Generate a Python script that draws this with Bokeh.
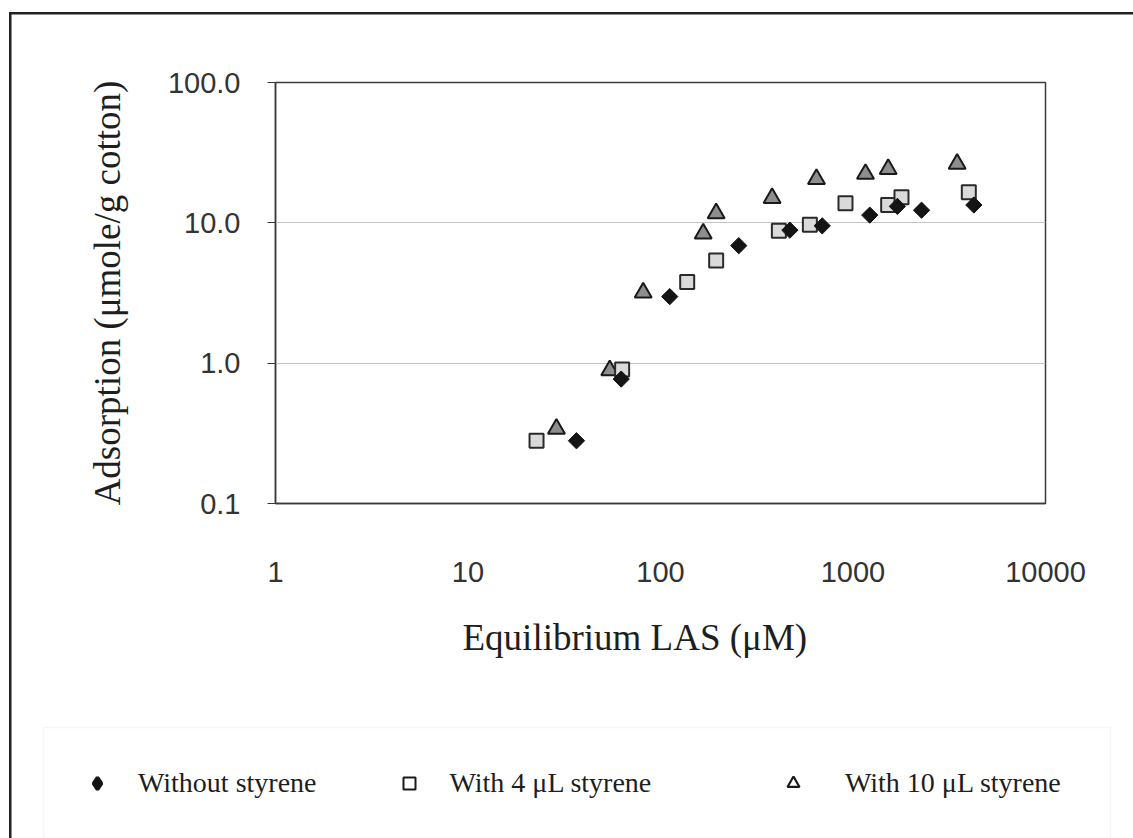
import math

from bokeh.plotting import figure
from bokeh.layouts import column
from bokeh.models import (BoxAnnotation, ColumnDataSource, FixedTicker, Legend,
                          LegendItem, PrintfTickFormatter, Range1d, Title)
from bokeh.embed import file_html
from bokeh.resources import INLINE

# Adsorption isotherms of LAS on cotton (log-log)
x_without = [36.6, 62.5, 111.7, 255, 470, 692, 1222, 1700, 2270, 4245]
y_without = [0.28, 0.77, 2.98, 6.88, 8.87, 9.52, 11.35, 13.1, 12.3, 13.4]

x_4ul = [22.7, 63.2, 137.6, 194.6, 412, 597, 914, 1523, 1786, 3996]
y_4ul = [0.28, 0.90, 3.79, 5.4, 8.77, 9.68, 13.8, 13.4, 15.2, 16.5]

x_10ul = [28.8, 54.5, 81.3, 166.7, 194.6, 380, 646, 1161, 1523, 3475]
y_10ul = [0.34, 0.89, 3.18, 8.39, 11.7, 15.0, 20.5, 22.3, 24.2, 26.3]

x_ticks = [1, 10, 100, 1000, 10000]
y_ticks = [0.1, 1, 10, 100]

series_names = ["Without styrene", "With 4 \u03bcL styrene", "With 10 \u03bcL styrene"]
x_title = "Equilibrium LAS (\u03bcM)"
y_title = "Adsorption (\u03bcmole/g cotton)"

SERIF = "Liberation Serif"
SANS = "Liberation Sans"
BORDER = "#222"

# ---------------------------------------------------------------- main chart
p = figure(width=1133, height=700, title=None,
           x_axis_type="log", y_axis_type="log",
           x_range=Range1d(1, 10000), y_range=Range1d(0.1, 100),
           output_backend="svg", toolbar_location=None,
           min_border_left=275, min_border_right=88,
           min_border_top=82, min_border_bottom=197)
p.frame_align = False

# chart border (left and top edges) painted behind a transparent canvas
p.border_fill_color = None
p.styles = {
    "background": (f"linear-gradient({BORDER},{BORDER}) 9px 12px / 2.5px 800px no-repeat, "
                   f"linear-gradient({BORDER},{BORDER}) 9px 12px / 1300px 2.5px no-repeat, white"),
}
p.background_fill_color = "white"
p.outline_line_color = "#3a3a3a"
p.outline_line_width = 1.5

p.xaxis.ticker = FixedTicker(ticks=x_ticks)
p.xaxis.formatter = PrintfTickFormatter(format="%d")
p.yaxis.ticker = FixedTicker(ticks=y_ticks)
p.yaxis.formatter = PrintfTickFormatter(format="%.1f")
for ax in (p.xaxis, p.yaxis):
    ax.major_label_text_font = SANS
    ax.major_label_text_font_size = "29px"
    ax.major_label_text_color = "#333333"
    ax.minor_tick_line_color = None
    ax.axis_line_color = "#3a3a3a"
    ax.axis_line_width = 1.5
p.xaxis.major_tick_line_color = None
p.xaxis.major_tick_out = 0
p.xaxis.major_label_standoff = 58
p.yaxis.major_tick_out = 8
p.yaxis.major_tick_in = 0
p.yaxis.major_tick_line_color = "#3a3a3a"
p.yaxis.major_label_standoff = 27

p.yaxis.axis_label = y_title
p.yaxis.axis_label_text_font = SERIF
p.yaxis.axis_label_text_font_size = "37px"
p.yaxis.axis_label_text_font_style = "normal"
p.yaxis.axis_label_text_color = "#1e1e1e"
p.yaxis.axis_label_standoff = 37

p.xgrid.grid_line_color = None
p.ygrid.grid_line_color = "#c4c4c4"
p.ygrid.grid_line_width = 1.2

src_without = ColumnDataSource(dict(x=x_without, y=y_without))
src_4ul = ColumnDataSource(dict(x=x_4ul, y=y_4ul))
src_10ul = ColumnDataSource(dict(x=x_10ul, y=y_10ul))

p.scatter("x", "y", source=src_10ul, marker="triangle", size=17,
          fill_color="#8e8e8e", line_color="#1a1a1a", line_width=2)
p.scatter("x", "y", source=src_4ul, marker="square", size=14,
          fill_color="#dadada", line_color="#2a2a2a", line_width=2)
p.scatter("x", "y", source=src_without, marker="square", angle=math.pi / 4,
          size=11.5, fill_color="#141414", line_color="#141414", line_width=1)

p.add_layout(Title(text=x_title, align="left", offset=187, standoff=60,
                   text_font=SERIF, text_font_size="37px",
                   text_font_style="normal", text_color="#1e1e1e"), "below")

# ---------------------------------------------------------------- legend strip
# pixel-like ranges (y grows downwards) for the legend frame
lg = figure(width=1133, height=138, title=None,
            x_range=Range1d(0, 1133), y_range=Range1d(138, 0),
            x_axis_location=None, y_axis_location=None,
            output_backend="svg", toolbar_location=None,
            min_border_left=0, min_border_right=0,
            min_border_top=0, min_border_bottom=0)
lg.frame_align = False
lg.border_fill_color = None
lg.background_fill_color = None
lg.outline_line_color = None
lg.xgrid.grid_line_color = None
lg.ygrid.grid_line_color = None
lg.styles = {
    "background": f"linear-gradient({BORDER},{BORDER}) 9px 0px / 2.5px 200px no-repeat, white",
}

# faint legend frame
lg.add_layout(BoxAnnotation(left=43, right=1110, top=27, bottom=170,
                            fill_color="white", fill_alpha=1,
                            line_color="#e0e0e0", line_width=1.5))

# legend keys: one NaN point each, so only the key glyph is drawn
nan = float("nan")
key_without = lg.scatter(x=[nan], y=[nan], marker="diamond", size=1,
                         fill_color="#141414", line_color="#141414", line_width=3.5)
key_4ul = lg.scatter(x=[nan], y=[nan], marker="square", size=1,
                     fill_color="white", line_color="#1a1a1a", line_width=2)
key_10ul = lg.scatter(x=[nan], y=[nan], marker="triangle", size=1,
                      fill_color="white", line_color="#1a1a1a", line_width=2.2)

legend_style = dict(orientation="horizontal", glyph_width=30, glyph_height=34,
                    padding=0, margin=0, border_line_color=None,
                    background_fill_alpha=0, label_text_font=SERIF,
                    label_text_font_size="28px", label_text_color="#1e1e1e")

legend_a = Legend(items=[LegendItem(label=series_names[0], renderers=[key_without]),
                         LegendItem(label=series_names[1], renderers=[key_4ul])],
                  location=(82, 38), label_standoff=26, spacing=77, **legend_style)
legend_b = Legend(items=[LegendItem(label=series_names[2], renderers=[key_10ul])],
                  location=(778, 38), label_standoff=37, spacing=0, **legend_style)
lg.add_layout(legend_a, "center")
lg.add_layout(legend_b, "center")

layout = column(p, lg, spacing=0)

open("out.html", "w").write(file_html(layout, INLINE))
